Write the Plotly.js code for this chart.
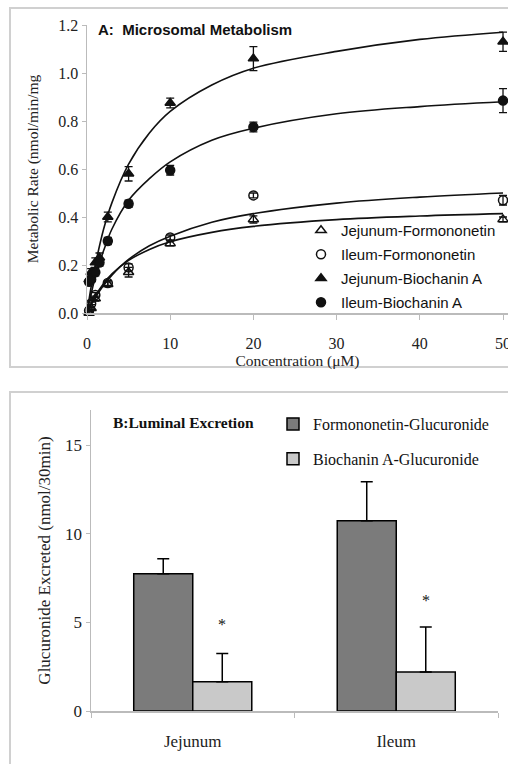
<!DOCTYPE html>
<html>
<head>
<meta charset="utf-8">
<script src="https://cdn.plot.ly/plotly-3.0.1.min.js"></script>
<style>html,body{margin:0;padding:0;background:#fff;}#chart{width:508px;height:764px;}</style>
</head>
<body>
<div id="chart"></div>
<script>
// ---------- Panel A: microsomal metabolism ----------
const concBio = [0.25, 0.5, 1, 1.5, 2.5, 5, 10, 20, 50];
const concFor = [0.25, 0.5, 1, 2.5, 5, 10, 20, 50];
const jejunumFormononetin = [0.0, 0.02, 0.06, 0.12, 0.17, 0.29, 0.39, 0.39];
const jejunumFormononetinErr = [0.005, 0.005, 0.01, 0.01, 0.02, 0.01, 0.015, 0.01];
const ileumFormononetin = [0.01, 0.04, 0.075, 0.125, 0.19, 0.315, 0.49, 0.47];
const ileumFormononetinErr = [0.005, 0.005, 0.01, 0.01, 0.015, 0.01, 0.01, 0.02];
const jejunumBiochanin = [0.14, 0.17, 0.21, 0.23, 0.40, 0.58, 0.875, 1.06, 1.13];
const jejunumBiochaninErr = [0.01, 0.015, 0.02, 0.02, 0.02, 0.03, 0.02, 0.05, 0.04];
const ileumBiochanin = [0.13, 0.14, 0.17, 0.21, 0.30, 0.455, 0.595, 0.775, 0.885];
const ileumBiochaninErr = [0.01, 0.01, 0.015, 0.015, 0.015, 0.015, 0.02, 0.02, 0.05];

// fitted curves
const fitConc = [0, 0.5, 1, 2, 3, 5, 7.5, 10, 15, 20, 30, 40, 50];
const fitJejunumBiochanin = [0, 0.11, 0.20, 0.35, 0.46, 0.62, 0.75, 0.84, 0.95, 1.02, 1.09, 1.14, 1.17];
const fitIleumBiochanin = [0, 0.08, 0.15, 0.26, 0.35, 0.47, 0.56, 0.63, 0.72, 0.77, 0.83, 0.86, 0.88];
const fitIleumFormononetin = [0, 0.034, 0.064, 0.116, 0.158, 0.223, 0.28, 0.32, 0.378, 0.414, 0.458, 0.483, 0.50];
const fitJejunumFormononetin = [0, 0.038, 0.071, 0.123, 0.163, 0.219, 0.265, 0.297, 0.336, 0.361, 0.389, 0.404, 0.414];

const seriesNamesA = ['Jejunum-Formononetin', 'Ileum-Formononetin', 'Jejunum-Biochanin A', 'Ileum-Biochanin A'];

// ---------- Panel B: luminal excretion ----------
const segments = ['Jejunum', 'Ileum'];
const formononetinGluc = [7.75, 10.75];
const formononetinGlucErr = [0.85, 2.2];
const biochaninGluc = [1.65, 2.2];
const biochaninGlucErr = [1.6, 2.55];
const starLevel = [4.9, 6.25];
const seriesNamesB = ['Formononetin-Glucuronide', 'Biochanin A-Glucuronide'];

const serif = 'Liberation Serif, Times New Roman, serif';
const sans = 'Liberation Sans, Arial, sans-serif';

function fitLine(y) {
  return {x: fitConc, y: y, xaxis: 'x', yaxis: 'y', mode: 'lines', type: 'scatter',
    line: {color: '#111', width: 1.6, shape: 'spline'}, showlegend: false, hoverinfo: 'skip'};
}
function pts(x, y, err, name, symbol, grp) {
  return {x: x, y: y, xaxis: 'x', yaxis: 'y', mode: 'markers', type: 'scatter', name: name,
    legend: 'legend', legendgroup: grp, cliponaxis: false,
    marker: {symbol: symbol, size: 9, color: '#111', line: {color: '#111', width: 1.5}},
    error_y: {type: 'data', array: err, visible: true, color: '#111', thickness: 1.3, width: 4}};
}

const traces = [
  fitLine(fitJejunumBiochanin), fitLine(fitIleumBiochanin),
  fitLine(fitIleumFormononetin), fitLine(fitJejunumFormononetin),
  pts(concFor, jejunumFormononetin, jejunumFormononetinErr, seriesNamesA[0], 'triangle-up-open', 'a1'),
  pts(concFor, ileumFormononetin, ileumFormononetinErr, seriesNamesA[1], 'circle-open', 'a2'),
  pts(concBio, jejunumBiochanin, jejunumBiochaninErr, seriesNamesA[2], 'triangle-up', 'a3'),
  pts(concBio, ileumBiochanin, ileumBiochaninErr, seriesNamesA[3], 'circle', 'a4'),
  {x: segments, y: formononetinGluc, xaxis: 'x2', yaxis: 'y2', type: 'bar', name: seriesNamesB[0],
    legend: 'legend2', legendgroup: 'b1',
    marker: {color: '#7b7b7b', line: {color: '#000', width: 1.5}},
    error_y: {type: 'data', symmetric: false, array: formononetinGlucErr, arrayminus: [0, 0], color: '#000', thickness: 1.5, width: 6}},
  {x: segments, y: biochaninGluc, xaxis: 'x2', yaxis: 'y2', type: 'bar', name: seriesNamesB[1],
    legend: 'legend2', legendgroup: 'b2',
    marker: {color: '#c9c9c9', line: {color: '#000', width: 1.5}},
    error_y: {type: 'data', symmetric: false, array: biochaninGlucErr, arrayminus: [0, 0], color: '#000', thickness: 1.5, width: 6}}
];

const W = 508, H = 764;
const px = v => v / W, py = v => 1 - v / H;

const layout = {
  width: W, height: H,
  margin: {l: 0, r: 0, t: 0, b: 0},
  paper_bgcolor: '#fff', plot_bgcolor: 'rgba(0,0,0,0)',
  showlegend: true,
  barmode: 'group', bargap: 0.42, bargroupgap: 0,
  xaxis: {domain: [px(87), 1], range: [0, 50.6], anchor: 'y',
    tickvals: [0, 10, 20, 30, 40, 50], ticks: 'outside', ticklen: 5, tickcolor: '#bbb',
    ticklabelstandoff: 10, ticklabeloverflow: 'allow',
    showline: true, linecolor: '#bbb', linewidth: 1.5, showgrid: false, zeroline: false,
    tickfont: {family: serif, size: 16, color: '#222'},
    title: {text: 'Concentration (\u03bcM)', font: {family: serif, size: 15.5, color: '#222'}, standoff: 1}},
  yaxis: {domain: [py(313), py(25)], range: [0, 1.2], anchor: 'x',
    tickvals: [0, 0.2, 0.4, 0.6, 0.8, 1.0, 1.2], tickformat: '.1f',
    ticks: 'outside', ticklen: 4, tickcolor: '#bbb',
    showline: true, linecolor: '#bbb', linewidth: 1.5, showgrid: false, zeroline: false,
    tickfont: {family: serif, size: 16, color: '#222'},
    title: {text: 'Metabolic Rate (nmol/min/mg', font: {family: serif, size: 15.5, color: '#222'}, standoff: 16}},
  xaxis2: {domain: [px(91), px(498)], anchor: 'y2', type: 'category',
    tickson: 'boundaries', ticks: 'outside', ticklen: 5, tickcolor: '#bbb',
    ticklabelstandoff: 14,
    showline: true, linecolor: '#bbb', linewidth: 1.5, showgrid: false, zeroline: false,
    tickfont: {family: serif, size: 17, color: '#222'}},
  yaxis2: {domain: [py(711), py(410)], range: [0, 17], anchor: 'x2',
    tickvals: [0, 5, 10, 15], ticks: 'outside', ticklen: 4, tickcolor: '#bbb',
    showline: true, linecolor: '#bbb', linewidth: 1.5, showgrid: false, zeroline: false,
    tickfont: {family: serif, size: 17, color: '#222'},
    title: {text: 'Glucuronide Excreted (nmol/30min)', font: {family: serif, size: 17, color: '#222'}, standoff: 10}},
  legend: {x: px(301), y: py(214), xanchor: 'left', yanchor: 'top',
    bgcolor: 'rgba(0,0,0,0)', borderwidth: 0, itemwidth: 30,
    traceorder: 'grouped', tracegroupgap: 1.5,
    font: {family: sans, size: 15, color: '#111'}},
  legend2: {x: px(273), y: py(407), xanchor: 'left', yanchor: 'top',
    bgcolor: 'rgba(0,0,0,0)', borderwidth: 0, itemwidth: 30,
    traceorder: 'grouped', tracegroupgap: 11,
    font: {family: serif, size: 16, color: '#111'}},
  shapes: [
    {type: 'rect', xref: 'paper', yref: 'paper', x0: px(10), x1: 1.05, y0: py(367), y1: py(8),
      line: {color: '#d0d0d0', width: 2}},
    {type: 'rect', xref: 'paper', yref: 'paper', x0: px(10), x1: 1.05, y0: -0.05, y1: py(392),
      line: {color: '#d0d0d0', width: 2}}
  ],
  annotations: [
    {xref: 'paper', yref: 'paper', x: px(96), y: py(30), xanchor: 'left', yanchor: 'middle',
      text: '<b>A:  Microsomal Metabolism</b>', showarrow: false,
      font: {family: sans, size: 15, color: '#111'}},
    {xref: 'paper', yref: 'paper', x: px(111), y: py(422), xanchor: 'left', yanchor: 'middle',
      text: '<b>B:Luminal Excretion</b>', showarrow: false,
      font: {family: serif, size: 15.5, color: '#111'}}
  ].concat(segments.map((s, i) => ({
      xref: 'x2', yref: 'y2', x: s, y: starLevel[i], xshift: 29.5, text: '*', showarrow: false,
      yanchor: 'middle', font: {family: serif, size: 16, color: '#111'}})))
};

Plotly.newPlot('chart', traces, layout, {displayModeBar: false, staticPlot: true});
</script>
</body>
</html>
